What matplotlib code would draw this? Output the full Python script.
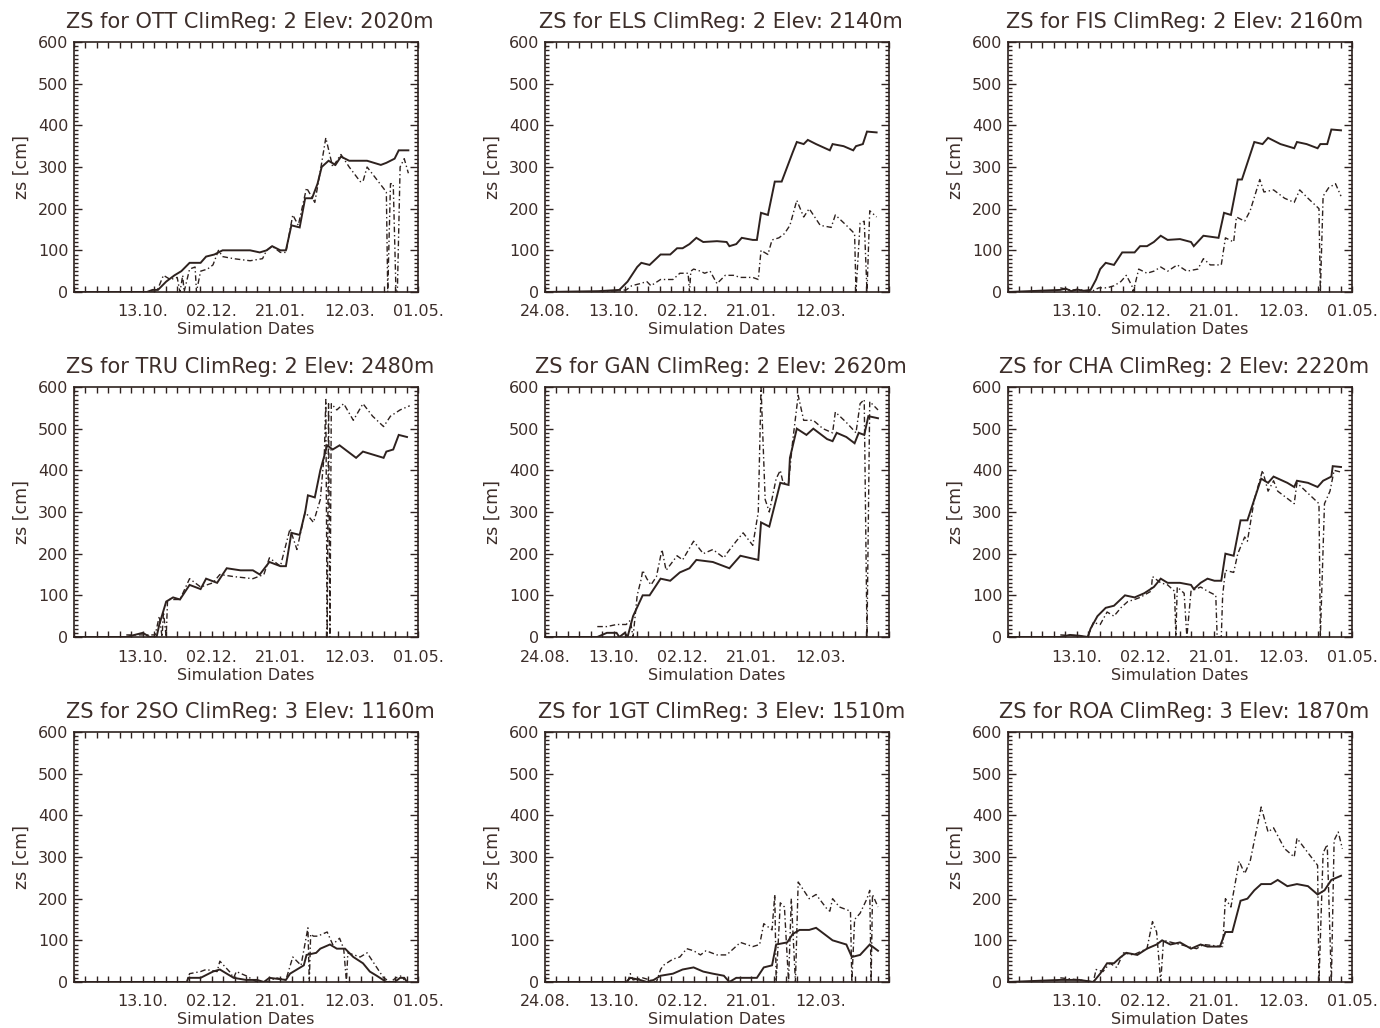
import matplotlib
matplotlib.use('Agg')
import matplotlib.pyplot as plt
import numpy as np

# day offsets are counted from 24.08.
tick_days = [0, 50, 100, 150, 200, 250]
tick_labels = ['24.08.', '13.10.', '02.12.', '21.01.', '12.03.', '01.05.']

stations = ['OTT', 'ELS', 'FIS', 'TRU', 'GAN', 'CHA', '2SO', '1GT', 'ROA']
clim_regs = [2, 2, 2, 2, 2, 2, 3, 3, 3]
elevations = [2020, 2140, 2160, 2480, 2620, 2220, 1160, 1510, 1870]

# OTT
ott_sim_day = [0, 53, 57, 61, 67, 73, 78, 84, 92, 96, 102, 108, 116, 128, 135, 140, 144, 150, 154, 158, 164, 168, 173, 177, 180, 185, 190, 194, 200, 213, 223, 227, 233, 236, 243]
ott_sim_zs = [0, 0, 5, 5, 25, 40, 50, 70, 70, 85, 90, 100, 100, 100, 95, 100, 110, 100, 100, 160, 155, 225, 225, 260, 300, 315, 305, 325, 315, 315, 305, 310, 320, 340, 340]
ott_obs_day = [56, 60, 65, 70, 75, 77, 79, 80, 84, 88, 89, 92, 97, 101, 105, 108, 116, 128, 137, 140, 144, 150, 154, 159, 163, 169, 175, 179, 183, 188, 194, 200, 208, 210, 213, 220, 227, 228, 230, 232, 234, 235, 237, 240, 243]
ott_obs_zs = [0, 0, 40, 30, 35, 0, 40, 0, 55, 60, 0, 50, 55, 65, 100, 85, 80, 75, 80, 100, 110, 95, 95, 185, 160, 250, 215, 290, 370, 300, 330, 300, 265, 265, 300, 270, 240, 0, 260, 260, 0, 0, 300, 320, 285]

# ELS
els_sim_day = [0, 39, 54, 60, 67, 70, 76, 84, 91, 96, 100, 105, 110, 115, 125, 132, 134, 139, 143, 151, 154, 157, 162, 167, 172, 176, 180, 183, 188, 191, 197, 207, 209, 217, 224, 226, 231, 234, 241]
els_sim_zs = [0, 2, 5, 25, 60, 70, 65, 90, 90, 105, 105, 115, 130, 120, 122, 120, 110, 115, 130, 125, 125, 190, 185, 265, 265, 300, 335, 360, 355, 365, 355, 340, 355, 350, 340, 350, 355, 385, 383]
els_obs_day = [39, 59, 63, 69, 74, 77, 84, 93, 98, 104, 105, 106, 108, 113, 116, 120, 125, 131, 137, 142, 151, 155, 157, 162, 165, 170, 174, 178, 183, 188, 192, 200, 208, 211, 219, 225, 226, 229, 232, 234, 236, 241]
els_obs_zs = [0, 5, 15, 20, 25, 15, 30, 30, 45, 45, 0, 50, 55, 50, 45, 50, 20, 40, 40, 35, 35, 30, 100, 90, 125, 130, 140, 160, 220, 180, 200, 160, 155, 185, 160, 140, 0, 165, 170, 0, 195, 180]

# FIS
fis_sim_day = [0, 38, 42, 46, 50, 55, 60, 64, 67, 71, 77, 83, 92, 96, 101, 106, 111, 116, 125, 133, 135, 142, 153, 157, 162, 167, 170, 174, 179, 185, 189, 198, 208, 210, 217, 225, 227, 232, 235, 242]
fis_sim_zs = [0, 5, 8, 2, 6, 3, 5, 30, 55, 70, 65, 95, 95, 110, 110, 120, 135, 125, 127, 120, 110, 135, 130, 190, 185, 270, 270, 310, 360, 355, 370, 355, 345, 360, 355, 345, 355, 355, 390, 388]
fis_obs_day = [38, 45, 53, 60, 66, 72, 77, 82, 86, 90, 91, 95, 101, 106, 111, 116, 123, 130, 138, 142, 147, 155, 158, 164, 166, 172, 176, 183, 186, 193, 201, 208, 212, 218, 226, 227, 229, 233, 238, 242]
fis_obs_zs = [10, 5, 5, 0, 10, 10, 15, 25, 40, 15, 0, 55, 45, 50, 60, 50, 65, 50, 55, 80, 65, 65, 130, 120, 180, 170, 195, 270, 240, 245, 225, 215, 245, 225, 200, 0, 230, 250, 260, 230]

# TRU
tru_sim_day = [0, 38, 44, 50, 55, 60, 62, 67, 72, 77, 84, 92, 96, 104, 111, 121, 130, 135, 142, 150, 154, 158, 164, 168, 170, 175, 179, 184, 188, 193, 205, 210, 215, 225, 227, 232, 236, 242]
tru_sim_zs = [0, 0, 5, 10, 0, 0, 30, 85, 95, 90, 125, 115, 140, 130, 165, 160, 160, 150, 180, 170, 170, 250, 245, 300, 340, 335, 400, 460, 450, 460, 430, 445, 440, 430, 445, 450, 485, 480]
tru_obs_day = [38, 48, 59, 62, 64, 65, 67, 68, 77, 84, 92, 101, 106, 116, 130, 138, 142, 150, 157, 162, 168, 174, 179, 182, 183, 184, 185, 186, 187, 191, 196, 203, 210, 217, 225, 230, 237, 244]
tru_obs_zs = [5, 5, 5, 50, 0, 60, 0, 90, 90, 140, 120, 130, 150, 145, 140, 150, 190, 170, 260, 210, 300, 275, 330, 445, 570, 0, 560, 0, 560, 545, 560, 520, 560, 530, 505, 530, 545, 555]

# GAN
gan_sim_day = [0, 38, 45, 52, 54, 58, 60, 64, 71, 76, 84, 91, 98, 105, 110, 122, 134, 142, 155, 157, 163, 171, 177, 178, 183, 190, 195, 205, 209, 212, 219, 225, 228, 232, 235, 242]
gan_sim_zs = [0, 0, 10, 10, 0, 10, 0, 50, 100, 100, 140, 135, 155, 165, 185, 180, 165, 195, 185, 275, 265, 370, 365, 430, 500, 485, 500, 475, 470, 490, 480, 465, 490, 485, 530, 525]
gan_obs_day = [38, 45, 52, 59, 62, 64, 67, 70, 71, 74, 77, 81, 85, 88, 96, 100, 108, 115, 122, 130, 132, 139, 144, 151, 155, 157, 160, 163, 168, 171, 173, 177, 180, 184, 188, 195, 202, 209, 211, 219, 226, 229, 232, 234, 236, 242]
gan_obs_zs = [25, 25, 30, 30, 40, 0, 100, 140, 160, 140, 125, 145, 210, 160, 195, 185, 230, 200, 210, 190, 200, 230, 250, 220, 300, 600, 330, 300, 380, 400, 370, 370, 470, 580, 520, 520, 500, 490, 540, 515, 490, 560, 570, 0, 565, 545]

# CHA
cha_sim_day = [0, 38, 45, 52, 58, 60, 65, 71, 77, 85, 92, 99, 106, 111, 116, 125, 133, 135, 140, 145, 150, 155, 158, 164, 169, 174, 179, 184, 189, 193, 203, 208, 210, 218, 225, 229, 235, 236, 242]
cha_sim_zs = [0, 0, 5, 3, 0, 20, 50, 70, 75, 100, 95, 105, 120, 140, 130, 130, 125, 115, 130, 140, 135, 135, 200, 195, 280, 280, 330, 380, 370, 385, 370, 360, 375, 370, 360, 375, 385, 410, 408]
cha_obs_day = [38, 50, 58, 62, 67, 72, 77, 82, 87, 92, 96, 104, 105, 111, 116, 121, 122, 123, 128, 130, 133, 140, 145, 151, 152, 155, 156, 158, 164, 167, 172, 174, 179, 185, 189, 193, 196, 208, 210, 218, 226, 227, 230, 234, 237, 243]
cha_obs_zs = [5, 3, 0, 35, 30, 60, 50, 70, 85, 90, 95, 110, 145, 130, 125, 110, 0, 120, 105, 0, 110, 120, 110, 100, 0, 0, 100, 160, 155, 200, 240, 230, 330, 400, 350, 375, 350, 320, 370, 345, 320, 0, 320, 350, 400, 395]

# 2SO
so2_sim_day = [0, 82, 83, 92, 101, 106, 111, 116, 125, 133, 138, 142, 154, 157, 167, 169, 176, 179, 186, 191, 197, 203, 210, 215, 220, 227, 233, 237, 240, 242]
so2_sim_zs = [0, 0, 10, 10, 25, 30, 20, 10, 5, 5, 0, 10, 5, 20, 40, 65, 70, 80, 90, 80, 80, 60, 45, 25, 15, 0, 0, 10, 10, 0]
so2_obs_day = [60, 82, 84, 92, 96, 104, 106, 113, 116, 118, 125, 133, 140, 147, 154, 159, 165, 170, 171, 172, 174, 177, 184, 188, 193, 196, 198, 199, 208, 213, 217, 225, 230, 234, 238, 240]
so2_obs_zs = [0, 0, 20, 25, 30, 25, 50, 25, 10, 25, 15, 0, 0, 10, 5, 60, 40, 130, 0, 115, 110, 110, 120, 90, 105, 80, 0, 70, 60, 70, 50, 10, 0, 10, 15, 5]

# 1GT
gt1_sim_day = [0, 59, 62, 69, 74, 79, 84, 93, 100, 108, 115, 122, 130, 134, 139, 149, 154, 159, 165, 168, 176, 180, 185, 192, 197, 205, 209, 214, 219, 223, 229, 236, 242]
gt1_sim_zs = [0, 0, 10, 5, 0, 5, 15, 20, 30, 35, 25, 20, 15, 0, 10, 10, 10, 35, 40, 90, 95, 115, 125, 125, 130, 110, 100, 95, 90, 60, 65, 90, 75]
gt1_obs_day = [60, 62, 64, 71, 76, 81, 84, 86, 93, 98, 103, 108, 113, 117, 125, 132, 137, 142, 151, 156, 159, 165, 167, 168, 171, 174, 177, 179, 182, 184, 192, 197, 205, 207, 209, 214, 222, 223, 225, 229, 234, 236, 237, 238, 242]
gt1_obs_zs = [0, 20, 5, 10, 5, 0, 30, 40, 55, 60, 80, 75, 65, 75, 65, 65, 80, 95, 85, 90, 140, 125, 210, 0, 190, 180, 0, 200, 0, 240, 200, 210, 175, 170, 200, 180, 170, 0, 150, 165, 200, 220, 0, 210, 180]

# ROA
roa_sim_day = [0, 38, 52, 62, 67, 72, 77, 82, 86, 94, 101, 108, 112, 118, 125, 133, 140, 145, 154, 158, 163, 169, 174, 179, 184, 191, 196, 203, 210, 218, 225, 230, 235, 242]
roa_sim_zs = [0, 5, 5, 0, 20, 45, 45, 60, 70, 65, 80, 90, 100, 90, 95, 80, 90, 85, 85, 120, 120, 195, 200, 220, 235, 235, 245, 230, 235, 230, 210, 220, 245, 255]
roa_obs_day = [38, 52, 62, 64, 69, 74, 79, 84, 91, 101, 105, 108, 111, 113, 125, 137, 142, 156, 158, 162, 168, 172, 176, 184, 189, 193, 201, 208, 210, 218, 225, 226, 229, 232, 235, 237, 240, 243]
roa_obs_zs = [10, 5, 0, 30, 25, 45, 35, 70, 65, 80, 145, 120, 0, 100, 90, 80, 90, 85, 200, 180, 290, 260, 290, 420, 360, 370, 320, 300, 345, 310, 280, 0, 310, 330, 0, 340, 360, 320]

sim_days = [ott_sim_day, els_sim_day, fis_sim_day, tru_sim_day, gan_sim_day, cha_sim_day, so2_sim_day, gt1_sim_day, roa_sim_day]
sim_zs = [ott_sim_zs, els_sim_zs, fis_sim_zs, tru_sim_zs, gan_sim_zs, cha_sim_zs, so2_sim_zs, gt1_sim_zs, roa_sim_zs]
obs_days = [ott_obs_day, els_obs_day, fis_obs_day, tru_obs_day, gan_obs_day, cha_obs_day, so2_obs_day, gt1_obs_day, roa_obs_day]
obs_zs = [ott_obs_zs, els_obs_zs, fis_obs_zs, tru_obs_zs, gan_obs_zs, cha_obs_zs, so2_obs_zs, gt1_obs_zs, roa_obs_zs]

# panels in the middle column start on 24.08., the others end on 01.05.
start_full = [False, True, False, False, True, False, False, True, False]

ink = '#2e221f'
txt = '#3d2e2a'
W, H = 1380, 1028
col_left = [74, 545, 1008]
row_top = [42, 387, 732]
aw, ah = 344, 250

plt.rcParams['font.family'] = ['DejaVu Sans']
fig = plt.figure(figsize=(W / 100, H / 100), dpi=100)
fig.patch.set_facecolor('white')

for i, st in enumerate(stations):
    r, c = divmod(i, 3)
    ax = fig.add_axes([col_left[c] / W, 1 - (row_top[r] + ah) / H, aw / W, ah / H])
    ax.plot(sim_days[i], sim_zs[i], color=ink, lw=1.4, solid_joinstyle='miter')
    ax.plot(obs_days[i], obs_zs[i], color=ink, lw=1.0, linestyle=(0, (4, 2, 1, 2)))
    if start_full[i]:
        ax.set_xlim(0, 249)
    else:
        ax.set_xlim(0.6, 250)
    ax.set_ylim(0, 600)
    lo, hi = ax.get_xlim()
    tk = [(d, l) for d, l in zip(tick_days, tick_labels) if lo <= d <= hi]
    ax.set_xticks([d for d, l in tk])
    ax.set_xticklabels([l for d, l in tk])
    ax.set_xticks(np.arange(0, 251, 50 / 6), minor=True)
    ax.set_yticks(range(0, 601, 100))
    ax.set_yticks(range(0, 601, 10), minor=True)
    ax.tick_params(axis='both', which='both', direction='in', top=True, right=True,
                   color=ink, labelcolor=txt, labelsize=11.5, width=1.0)
    ax.tick_params(axis='x', which='both', length=4, pad=9)
    ax.tick_params(axis='y', which='major', length=6, pad=4)
    ax.tick_params(axis='y', which='minor', length=3)
    for sp in ax.spines.values():
        sp.set_color(ink)
        sp.set_linewidth(1.2)
    ax.text(0.512, 1.08, 'ZS for %s ClimReg: %d Elev: %dm' % (st, clim_regs[i], elevations[i]),
            transform=ax.transAxes, ha='center', va='center', fontsize=15, color=txt)
    ax.text(0.5, -0.152, 'Simulation Dates', transform=ax.transAxes,
            ha='center', va='center', fontsize=11.5, color=txt)
    ax.text(-0.152, 0.5, 'zs [cm]', transform=ax.transAxes, rotation=90,
            ha='center', va='center', fontsize=12.5, color=txt)

fig.savefig('out.png', dpi=100)
